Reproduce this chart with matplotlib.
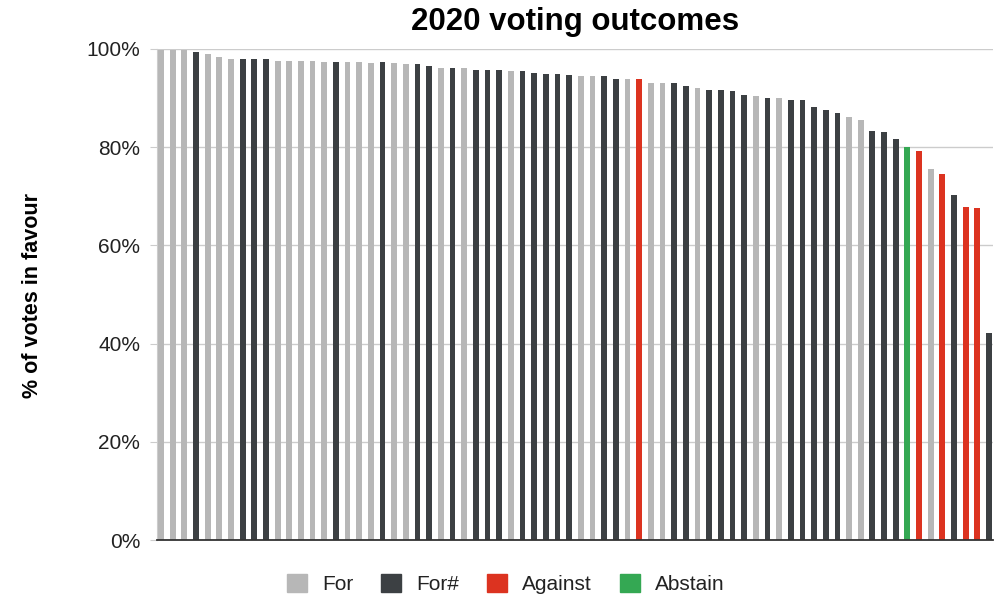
import matplotlib.pyplot as plt
from matplotlib.patches import Patch
from matplotlib.ticker import PercentFormatter

plt.rcParams['font.family'] = ['Liberation Sans', 'DejaVu Sans']

# % of votes in favour, one bar per resolution (sorted)
values = [99.8, 99.7, 99.8, 99.3, 99.0, 98.3, 97.95, 97.95, 97.95, 97.95,
          97.6, 97.6, 97.6, 97.6, 97.3, 97.3, 97.3, 97.3, 97.2, 97.3,
          97.2, 96.9, 96.9, 96.6, 96.2, 96.2, 96.2, 95.8, 95.8, 95.8,
          95.5, 95.5, 95.2, 94.9, 94.9, 94.8, 94.5, 94.5, 94.5, 93.8,
          93.8, 93.8, 93.1, 93.1, 93.1, 92.4, 92.1, 91.7, 91.7, 91.4,
          90.7, 90.4, 90.0, 90.0, 89.6, 89.6, 88.2, 87.5, 87.0, 86.2,
          85.5, 83.4, 83.1, 81.7, 80.0, 79.3, 75.6, 74.5, 70.3, 67.9,
          67.7, 42.2]

# how the vote was cast
outcomes = ['For', 'For', 'For', 'For#', 'For', 'For', 'For', 'For#', 'For#', 'For#',
            'For', 'For', 'For', 'For', 'For', 'For#', 'For', 'For', 'For', 'For#',
            'For', 'For', 'For#', 'For#', 'For', 'For#', 'For', 'For#', 'For#', 'For#',
            'For', 'For#', 'For#', 'For#', 'For#', 'For#', 'For', 'For', 'For#', 'For#',
            'For', 'Against', 'For', 'For', 'For#', 'For#', 'For', 'For#', 'For#', 'For#',
            'For#', 'For', 'For#', 'For', 'For#', 'For#', 'For#', 'For#', 'For#', 'For',
            'For', 'For#', 'For#', 'For#', 'Abstain', 'Against', 'For', 'Against', 'For#', 'Against',
            'Against', 'For#']

legend_labels = ['For', 'For#', 'Against', 'Abstain']
colors = {'For': '#b7b7b7', 'For#': '#3c4043', 'Against': '#dc3320', 'Abstain': '#34a853'}

fig = plt.figure(figsize=(10.01, 5.97), dpi=100)
ax = fig.add_axes([157 / 1001, 1 - 540 / 597, 836 / 1001, 491 / 597])

x = range(len(values))
ax.bar(x, values, width=0.5, color=[colors[o] for o in outcomes], zorder=3)

ax.set_xlim(-0.34, len(values) - 1 + 0.34)
ax.set_ylim(0, 100)
ax.set_yticks([0, 20, 40, 60, 80, 100])
ax.yaxis.set_major_formatter(PercentFormatter(decimals=0))
ax.set_xticks([])
ax.grid(axis='y', color='#cccccc', linewidth=1, zorder=0)
ax.tick_params(axis='y', length=5, color='#cccccc', pad=7, labelsize=15, labelcolor='#222222')

for s in ['top', 'right']:
    ax.spines[s].set_visible(False)
ax.spines['left'].set_color('#cccccc')
ax.spines['bottom'].set_color('#333333')
ax.spines['bottom'].set_linewidth(1.3)
ax.spines['bottom'].set_zorder(4)

# y label and title placed in figure coords
fig.text(33 / 1001, 1 - 295 / 597, '% of votes in favour', rotation=90, fontsize=15.5,
         fontweight='bold', ha='center', va='center')
fig.text(575 / 1001, 1 - 22 / 597, '2020 voting outcomes', fontsize=22.5,
         fontweight='bold', ha='center', va='center')

handles = [Patch(color=colors[k], label=k) for k in legend_labels]
fig.legend(handles=handles, loc='center', bbox_to_anchor=(506 / 1001, 1 - 584 / 597),
           ncol=4, frameon=False, fontsize=15, handlelength=0.96, handleheight=0.96,
           handletextpad=0.72, columnspacing=1.35, labelcolor='#222222')

fig.savefig('out.png', dpi=100)
